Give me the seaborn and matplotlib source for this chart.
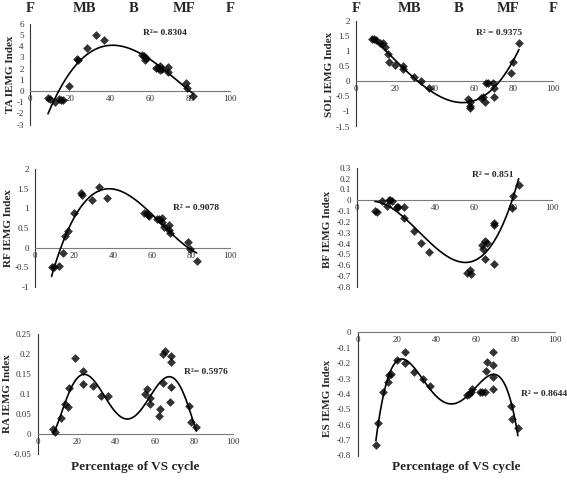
"""
plot.py
IEMG index vs percentage of the VS cycle, six muscles, polynomial trend lines.
"""

import numpy as np
import pandas as pd
import matplotlib
matplotlib.use("Agg")
import matplotlib.pyplot as plt
import matplotlib.transforms as mtransforms
import seaborn as sns

# ── Data ─────────────────────────────────────────────────────────────────────
PHASES  = ["F", "MB", "B", "MF", "F"]
XTICKS  = [0, 20, 40, 60, 80, 100]
X_LABEL = "Percentage of VS cycle"

TA_X = [9.0, 9.8, 12.6, 14.4, 15.6, 16.7, 19.3, 23.4, 23.9, 28.7, 32.8, 36.9, 56.2,
        57.0, 57.4, 57.9, 62.8, 63.9, 64.8, 65.1, 65.9, 68.9, 68.9, 77.9, 78.7, 81.6]
TA_Y = [-0.62, -0.68, -0.98, -0.71, -0.77, -0.83, 0.47, 2.9, 2.78, 3.88, 4.97, 4.56, 3.22,
        3.14, 2.78, 2.93, 2.04, 2.04, 2.19, 1.89, 1.95, 2.1, 1.66, 0.71, 0.27, -0.41]

SOL_X = [8.1, 9.3, 10.3, 12.4, 13.6, 14.9, 16.1, 16.9, 19.7, 23.9, 23.9, 29.3, 33.1, 37.3,
         56.8, 57.8, 58.1, 58.1, 63.2, 64.4, 65.3, 65.8, 67.1, 69.7, 70.0, 70.0, 78.8, 79.8, 82.7]
SOL_Y = [1.41, 1.40, 1.37, 1.26, 1.28, 1.15, 0.90, 0.63, 0.54, 0.51, 0.40, 0.16, 0.01, -0.23,
         -0.60, -0.68, -0.82, -0.90, -0.56, -0.53, -0.68, -0.04, -0.07, -0.07, -0.51, -0.23,
         0.29, 0.65, 1.26]

RF_X = [8.5, 9.7, 12.5, 14.5, 15.4, 17.1, 20.0, 23.6, 23.9, 29.1, 32.8, 37.1, 55.9, 57.3,
        58.1, 58.6, 62.7, 63.8, 65.0, 65.0, 66.2, 68.9, 68.9, 69.2, 78.6, 79.5, 82.9]
RF_Y = [-0.50, -0.50, -0.47, -0.14, 0.29, 0.43, 0.87, 1.40, 1.33, 1.21, 1.54, 1.27, 0.89, 0.87,
        0.83, 0.80, 0.74, 0.72, 0.76, 0.66, 0.53, 0.57, 0.44, 0.38, 0.15, -0.03, -0.34]

BF_X = [9.2, 10.0, 13.0, 15.3, 16.2, 17.0, 17.9, 20.3, 21.0, 24.2, 24.2, 29.2, 33.0, 36.7,
        56.4, 58.1, 58.6, 64.1, 64.6, 65.8, 66.7, 65.8, 70.1, 70.1, 70.1, 79.5, 80.0, 82.9]
BF_Y = [-0.098, -0.11, -0.003, -0.05, 0.006, 0.0, -0.01, -0.058, -0.065, -0.065, -0.16, -0.28,
        -0.39, -0.48, -0.67, -0.64, -0.68, -0.41, -0.45, -0.38, -0.39, -0.54, -0.21, -0.23,
        -0.59, -0.07, 0.04, 0.14]

RA_X = [8.0, 9.1, 12.0, 14.2, 15.4, 16.2, 19.3, 23.4, 23.4, 28.2, 32.5, 36.2, 55.0, 56.1,
        57.6, 57.6, 62.1, 62.9, 64.1, 65.0, 64.1, 68.4, 68.4, 68.4, 68.0, 77.3, 78.3, 81.2]
RA_Y = [0.012, 0.005, 0.039, 0.074, 0.067, 0.115, 0.19, 0.157, 0.125, 0.12, 0.095, 0.095,
        0.10, 0.112, 0.089, 0.075, 0.046, 0.062, 0.20, 0.208, 0.128, 0.196, 0.179, 0.118,
        0.081, 0.07, 0.031, 0.017]

ES_X = [9.3, 10.2, 12.9, 15.3, 16.1, 17.0, 19.8, 24.1, 24.1, 28.8, 33.1, 36.8, 55.5, 56.5,
        57.7, 58.2, 62.2, 63.2, 64.4, 64.9, 65.6, 68.6, 68.6, 68.6, 68.6, 77.9, 78.4, 81.2]
ES_Y = [-0.73, -0.59, -0.39, -0.32, -0.28, -0.27, -0.18, -0.13, -0.20, -0.26, -0.30, -0.35,
        -0.41, -0.40, -0.39, -0.37, -0.385, -0.385, -0.39, -0.25, -0.19, -0.126, -0.21, -0.29,
        -0.37, -0.48, -0.565, -0.62]

# ── Panel setup: data, fit order, y-range, R² label, layout in pixels ────────
#  box = (x of 0, x of 100, y of ymax, y of ymin) in figure pixels
PANELS = [
    dict(label="TA IEMG Index",  x=TA_X,  y=TA_Y,  order=3, ylim=(-3, 6),       ystep=1,
         r2="R²= 0.8304",  r2_at=(56.5, 5.2),   box=(30, 230, 23.8, 124.6),  ylab=(11, 74)),
    dict(label="SOL IEMG Index", x=SOL_X, y=SOL_Y, order=3, ylim=(-1.5, 2),     ystep=0.5,
         r2="R² = 0.9375", r2_at=(61, 1.6),     box=(356, 553, 21.1, 126.5), ylab=(329, 74)),
    dict(label="RF IEMG Index",  x=RF_X,  y=RF_Y,  order=3, ylim=(-1, 2),       ystep=0.5,
         r2="R² = 0.9078", r2_at=(70.8, 1.0),   box=(35, 230, 169, 287),     ylab=(9, 228)),
    dict(label="BF IEMG Index",  x=BF_X,  y=BF_Y,  order=3, ylim=(-0.8, 0.3),   ystep=0.1,
         r2="R² = 0.851",  r2_at=(59, 0.23),    box=(357, 552, 167.8, 287),  ylab=(327, 229)),
    dict(label="RA IEMG Index",  x=RA_X,  y=RA_Y,  order=6, ylim=(-0.05, 0.25), ystep=0.05,
         r2="R²= 0.5976",  r2_at=(75, 0.156),   box=(37.5, 233, 334, 454),   ylab=(8, 394)),
    dict(label="ES IEMG Index",  x=ES_X,  y=ES_Y,  order=4, ylim=(-0.8, 0),     ystep=0.1,
         r2="R² = 0.8644", r2_at=(83.0, -0.40), box=(357.5, 555, 332.3, 455.5), ylab=(327, 398)),
]

W, H = 567, 480
PHASE_POS = [0, 27, 52, 77, 100]
SERIF = "Liberation Serif"


def fmt_tick(v):
    s = f"{v:.2f}".rstrip("0").rstrip(".")
    return "0" if s == "-0" else s


def draw_panel(fig, p):
    x0, x100, ytop, ybot = p["box"]
    ax = fig.add_axes([x0 / W, 1 - ybot / H, (x100 - x0) / W, (ybot - ytop) / H])
    df = pd.DataFrame({"pct": p["x"], "iemg": p["y"]})
    sns.regplot(data=df, x="pct", y="iemg", order=p["order"], ci=None, ax=ax,
                marker="D",
                scatter_kws=dict(s=20, color="black", linewidths=0, zorder=3),
                line_kws=dict(color="black", lw=1.2, zorder=4))

    lo, hi = p["ylim"]
    n = int(round((hi - lo) / p["ystep"])) + 1
    yt = np.round(np.linspace(lo, hi, n), 3)
    ax.set_xlim(0, 100)
    ax.set_ylim(lo, hi)
    ax.set_yticks(yt)
    ax.set_yticklabels([fmt_tick(v) for v in yt])
    ax.set_xticks(XTICKS)
    ax.set_xticklabels([str(v) for v in XTICKS])
    ax.set_xlabel("")
    ax.set_ylabel("")

    for s in ("top", "right"):
        ax.spines[s].set_visible(False)
    ax.spines["left"].set_position(("data", 0))
    ax.spines["left"].set_color("#333333")
    ax.spines["left"].set_linewidth(0.8)
    ax.spines["bottom"].set_position(("data", 0))
    ax.spines["bottom"].set_color("#7a7a7a")
    ax.spines["bottom"].set_linewidth(0.8)
    ax.tick_params(axis="y", direction="out", length=3, width=0.7, color="#333333",
                   pad=1.5, labelsize=6.5, labelcolor="#333333")
    ax.tick_params(axis="x", length=0, pad=3, labelsize=6.5, labelcolor="#333333")
    ax.patch.set_alpha(0)

    ax.text(p["r2_at"][0], p["r2_at"][1], p["r2"], fontsize=6.8, fontweight="bold",
            ha="left", va="center", clip_on=False)
    fig.text(p["ylab"][0] / W, 1 - p["ylab"][1] / H, p["label"], rotation=90,
             fontsize=8, fontweight="bold", ha="center", va="center")
    return ax


# ── Figure ───────────────────────────────────────────────────────────────────
sns.set_style("white")
plt.rcParams["font.family"] = [SERIF, "DejaVu Serif"]

fig = plt.figure(figsize=(W / 100, H / 100), dpi=100)
axes = [draw_panel(fig, p) for p in PANELS]

# phase letters above each column
for ax in axes[:2]:
    trans = mtransforms.blended_transform_factory(ax.transData, fig.transFigure)
    for pos, name in zip(PHASE_POS, PHASES):
        ax.text(pos, 1 - 9 / H, name, transform=trans, fontsize=10.5,
                fontweight="bold", ha="center", va="center", clip_on=False)

# x-axis title under the bottom row
for ax in axes[4:]:
    bb = ax.get_position()
    fig.text((bb.x0 + bb.x1) / 2, 1 - 467 / H, X_LABEL, fontsize=9.5,
             fontweight="bold", ha="center", va="center")

fig.savefig("out.png", dpi=100)
plt.close(fig)
